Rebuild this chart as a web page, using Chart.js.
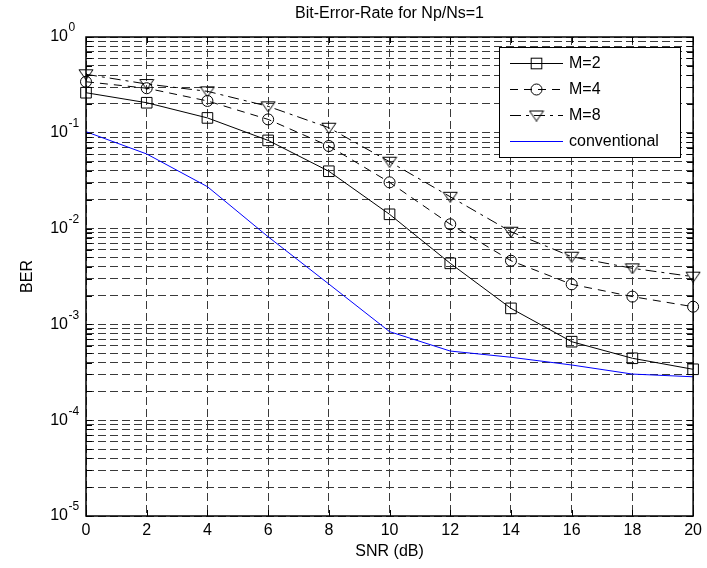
<!DOCTYPE html>
<html><head><meta charset="utf-8">
<script src="https://cdn.jsdelivr.net/npm/chart.js@4.4.1/dist/chart.umd.min.js"></script>
<style>html,body{margin:0;padding:0;background:#fff;}canvas{display:block;}</style>
</head><body>
<canvas id="c" width="707" height="568"></canvas>
<script>
// ---- data ----
const snr = [0, 2, 4, 6, 8, 10, 12, 14, 16, 18, 20];
const berM2 = [0.262, 0.206, 0.143, 0.0833, 0.0397, 0.0141, 0.00434, 0.00147, 0.00066, 0.000443, 0.00034];
const berM4 = [0.341, 0.292, 0.215, 0.138, 0.0728, 0.0304, 0.0111, 0.00462, 0.00262, 0.00195, 0.00153];
const berM8 = [0.408, 0.323, 0.271, 0.189, 0.113, 0.0499, 0.0215, 0.00928, 0.00509, 0.00385, 0.00315];
const berConv = [0.1027, 0.0601, 0.0274, 0.00822, 0.00264, 0.00084, 0.000527, 0.000454, 0.000377, 0.000303, 0.000284];
const seriesLabels = ['M=2', 'M=4', 'M=8', 'conventional'];
const xTickValues = [0, 2, 4, 6, 8, 10, 12, 14, 16, 18, 20];
const yDecadeExponents = [-5, -4, -3, -2, -1, 0];
const titleText = 'Bit-Error-Rate for Np/Ns=1';
const xTitle = 'SNR (dB)';
const yTitle = 'BER';

Chart.defaults.font.family = "'Liberation Sans', Arial, Helvetica, sans-serif";
Chart.defaults.font.size = 16;
Chart.defaults.color = '#000';

const GRID = '#3a3a3a';
const DASH = [8, 4];

// down-pointing triangle marker (wider than tall, like MATLAB 'v')
const triImg = (() => {
  const c = document.createElement('canvas'); c.width = 16; c.height = 12;
  const g = c.getContext('2d');
  g.strokeStyle = '#000'; g.lineWidth = 1;
  g.beginPath(); g.moveTo(1, 1.5); g.lineTo(15, 1.5); g.lineTo(8, 11.5); g.closePath(); g.stroke();
  return c;
})();

const pts = arr => snr.map((x, i) => ({ x: x, y: arr[i] }));

function isDecade(v) {
  const l = Math.log10(v);
  return Math.abs(l - Math.round(l)) < 1e-9;
}

const yTickList = [];
yDecadeExponents.forEach(d => {
  if (d === 0) { yTickList.push(1); return; }
  for (let m = 1; m <= 9; m++) yTickList.push(m * Math.pow(10, d));
});

const seriesStyles = [
  { dash: [], marker: 'rect', radius: 7.5 },
  { dash: [8, 6], marker: 'circle', radius: 5.5 },
  { dash: [11, 5, 3, 5], marker: triImg, radius: 8 },
  { dash: [], marker: false, radius: 0 }
];
const seriesData = [berM2, berM4, berM8, berConv];
const seriesColors = ['#000000', '#000000', '#000000', '#0000ff'];

const datasets = seriesData.map((arr, i) => ({
  label: seriesLabels[i],
  data: pts(arr),
  borderColor: seriesColors[i],
  borderWidth: 1,
  borderDash: seriesStyles[i].dash,
  pointStyle: seriesStyles[i].marker || 'circle',
  pointRadius: seriesStyles[i].radius,
  pointBorderColor: '#000',
  pointBorderWidth: 1,
  pointBackgroundColor: 'rgba(0,0,0,0)',
  tension: 0,
  clip: false
}));

const framePlugin = {
  id: 'frame',
  afterDatasetsDraw(chart) {
    const { ctx, chartArea: a, scales } = chart;
    ctx.save();
    // inward tick marks
    ctx.strokeStyle = '#000'; ctx.lineWidth = 1; ctx.setLineDash([]);
    const TL = 6;
    scales.y.ticks.forEach(t => {
      const y = Math.round(scales.y.getPixelForValue(t.value)) + 0.5;
      ctx.beginPath();
      ctx.moveTo(a.left, y); ctx.lineTo(a.left + TL, y);
      ctx.moveTo(a.right, y); ctx.lineTo(a.right - TL, y);
      ctx.stroke();
    });
    scales.x.ticks.forEach(t => {
      const x = Math.round(scales.x.getPixelForValue(t.value)) + 0.5;
      ctx.beginPath();
      ctx.moveTo(x, a.bottom); ctx.lineTo(x, a.bottom - TL);
      ctx.moveTo(x, a.top); ctx.lineTo(x, a.top + TL);
      ctx.stroke();
    });
    // box
    ctx.lineWidth = 1.5;
    ctx.strokeRect(a.left, a.top, a.right - a.left, a.bottom - a.top);

    // exponents of decade labels
    ctx.font = "12px 'Liberation Sans', Arial, sans-serif";
    ctx.fillStyle = '#000';
    ctx.textAlign = 'left'; ctx.textBaseline = 'middle';
    scales.y.ticks.forEach(t => {
      if (!isDecade(t.value)) return;
      const y = scales.y.getPixelForValue(t.value);
      ctx.fillText(String(Math.round(Math.log10(t.value))), a.left - 17.5, y - 9);
    });

    // legend box (MATLAB style, inside plot)
    const lx = 499, ly = 47, lw = 181, lh = 110;
    ctx.fillStyle = '#fff';
    ctx.fillRect(lx, ly, lw, lh);
    ctx.strokeStyle = '#000'; ctx.lineWidth = 1;
    ctx.strokeRect(lx + 0.5, ly + 0.5, lw, lh);
    const rowY = [63.5, 89.5, 115.5, 141.5];
    const x0 = 510, x1 = 563, xm = 536.5;
    seriesLabels.forEach((lab, i) => {
      const y = rowY[i];
      const st = seriesStyles[i];
      ctx.save();
      ctx.strokeStyle = seriesColors[i];
      ctx.lineWidth = 1;
      ctx.setLineDash(st.dash);
      ctx.beginPath(); ctx.moveTo(x0, y); ctx.lineTo(x1, y); ctx.stroke();
      ctx.restore();
      ctx.setLineDash([]);
      ctx.strokeStyle = '#000';
      if (st.marker === 'rect') {
        const s = st.radius * Math.SQRT1_2;
        ctx.strokeRect(xm - s, y - s, 2 * s, 2 * s);
      } else if (st.marker === 'circle') {
        ctx.beginPath(); ctx.arc(xm, y, st.radius, 0, Math.PI * 2); ctx.stroke();
      } else if (st.marker) {
        ctx.drawImage(st.marker, xm - st.marker.width / 2, y - st.marker.height / 2);
      }
      ctx.fillStyle = '#000';
      ctx.font = "16px 'Liberation Sans', Arial, sans-serif";
      ctx.textAlign = 'left'; ctx.textBaseline = 'middle';
      ctx.fillText(lab, 569, y);
    });
    ctx.restore();
  }
};

new Chart(document.getElementById('c'), {
  type: 'line',
  data: { datasets: datasets },
  options: {
    responsive: false,
    animation: false,
    devicePixelRatio: 1,
    layout: { padding: { top: 0, right: 13, bottom: 0, left: 0 } },
    plugins: {
      legend: { display: false },
      tooltip: { enabled: false },
      title: {
        display: true, text: titleText, color: '#000', fullSize: false,
        font: { size: 16, weight: 'normal' },
        padding: { top: 4, bottom: 13.8 }
      }
    },
    scales: {
      x: {
        type: 'linear', min: 0, max: 20,
        afterBuildTicks: ax => { ax.ticks = xTickValues.map(v => ({ value: v })); },
        afterFit: ax => { ax.height = 52; },
        ticks: { padding: 5, color: '#000', font: { size: 16 }, maxRotation: 0, autoSkip: false },
        grid: { color: GRID, lineWidth: 1, drawTicks: false },
        border: { display: false, dash: DASH },
        title: { display: true, text: xTitle, color: '#000', font: { size: 16 }, padding: { top: 0, bottom: 7 } }
      },
      y: {
        type: 'logarithmic', min: 1e-5, max: 1,
        afterBuildTicks: ax => { ax.ticks = yTickList.map(v => ({ value: v })); },
        afterFit: ax => { ax.width = 86; },
        ticks: {
          padding: 18, color: '#000', font: { size: 16 }, autoSkip: false,
          callback: v => isDecade(v) ? '10' : ''
        },
        grid: { color: GRID, lineWidth: 1, drawTicks: false },
        border: { display: false, dash: DASH },
        title: { display: true, text: yTitle, color: '#000', font: { size: 16 }, padding: { top: 18, bottom: 0 } }
      }
    }
  },
  plugins: [framePlugin]
});
</script>
</body></html>
